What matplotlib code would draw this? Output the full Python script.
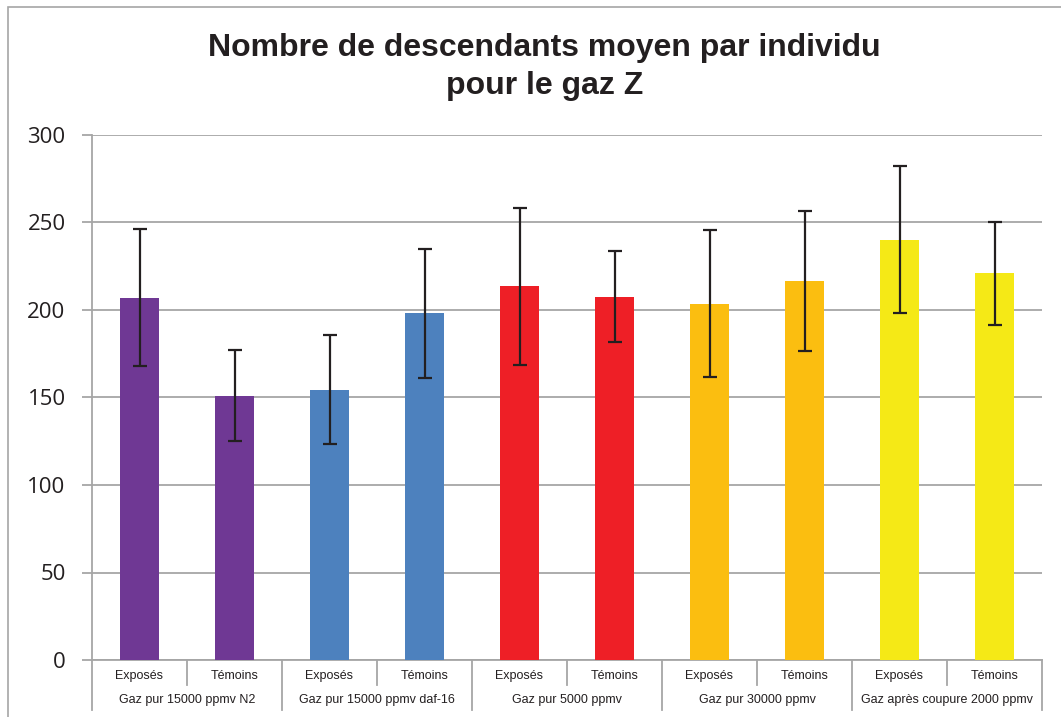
import numpy as np
import matplotlib
matplotlib.use("Agg")
import matplotlib.pyplot as plt
from matplotlib.transforms import blended_transform_factory
from matplotlib.patches import Rectangle

# data
sous_cat = ["Exposés", "Témoins"] * 5
groupes = ["Gaz pur 15000 ppmv N2", "Gaz pur 15000 ppmv daf-16", "Gaz pur 5000 ppmv",
           "Gaz pur 30000 ppmv", "Gaz après coupure 2000 ppmv"]
moyennes = [207, 151, 154.5, 198, 213.5, 207.5, 203.5, 216.5, 240, 221]
erreurs = [39, 26, 31, 37, 45, 26, 42, 40, 42, 29.5]
couleurs = ["#6f3894", "#6f3894", "#4d81be", "#4d81be", "#ee1f26",
            "#ee1f26", "#fbbe10", "#fbbe10", "#f5e916", "#f5e916"]
yticks = [0, 50, 100, 150, 200, 250, 300]

gris = "#a6a6a6"
fig = plt.figure(figsize=(10.61, 7.17), dpi=100)
fig.patches.append(Rectangle((8 / 1061, -0.1), 1.2, 1 - 7 / 717 + 0.1,
                             transform=fig.transFigure, fill=False,
                             edgecolor=gris, lw=1.2))
ax = fig.add_axes([92 / 1061, 1 - 660 / 717, 950 / 1061, 525 / 717])

x = np.arange(len(moyennes))
ax.bar(x, moyennes, width=0.41, color=couleurs, zorder=3)
ax.errorbar(x, moyennes, yerr=erreurs, fmt="none", ecolor="#231f20",
            elinewidth=1.6, capsize=5, capthick=1.6, zorder=4)

ax.set_xlim(-0.5, len(moyennes) - 0.5)
ax.set_ylim(0, 300)
ax.set_yticks(yticks)
ax.set_yticklabels([str(v) for v in yticks], fontsize=16, family="Open Sans",
                   color="#231f20")
ax.yaxis.grid(True, color=gris, lw=1.3, zorder=0)
ax.tick_params(axis="y", length=7, width=1.3, color=gris, pad=12)
ax.set_xticks([])
for s in ["top", "right"]:
    ax.spines[s].set_visible(False)
ax.spines["left"].set_color(gris)
ax.spines["left"].set_linewidth(1.3)
ax.spines["bottom"].set_color(gris)
ax.spines["bottom"].set_linewidth(1.3)

tr = blended_transform_factory(ax.transData, ax.transAxes)
for i in range(len(moyennes) + 1):
    bas = -0.095 if i % 2 == 0 else -0.048
    ax.plot([i - 0.5, i - 0.5], [0, bas], color=gris, lw=1.3,
            transform=tr, clip_on=False)
for i, lab in enumerate(sous_cat):
    ax.text(i, -0.031, lab, transform=tr, ha="center", va="center",
            fontsize=9, family="Liberation Sans", color="#231f20")
for g, lab in enumerate(groupes):
    ax.text(2 * g + 0.5, -0.077, lab, transform=tr, ha="center", va="center",
            fontsize=9, family="Liberation Sans", color="#231f20")

fig.text(0.513, 0.906, "Nombre de descendants moyen par individu\npour le gaz Z",
         ha="center", va="center", fontsize=23, fontweight="bold",
         family="Liberation Sans", color="#231f20", linespacing=1.35)

fig.savefig("out.png", dpi=100)
